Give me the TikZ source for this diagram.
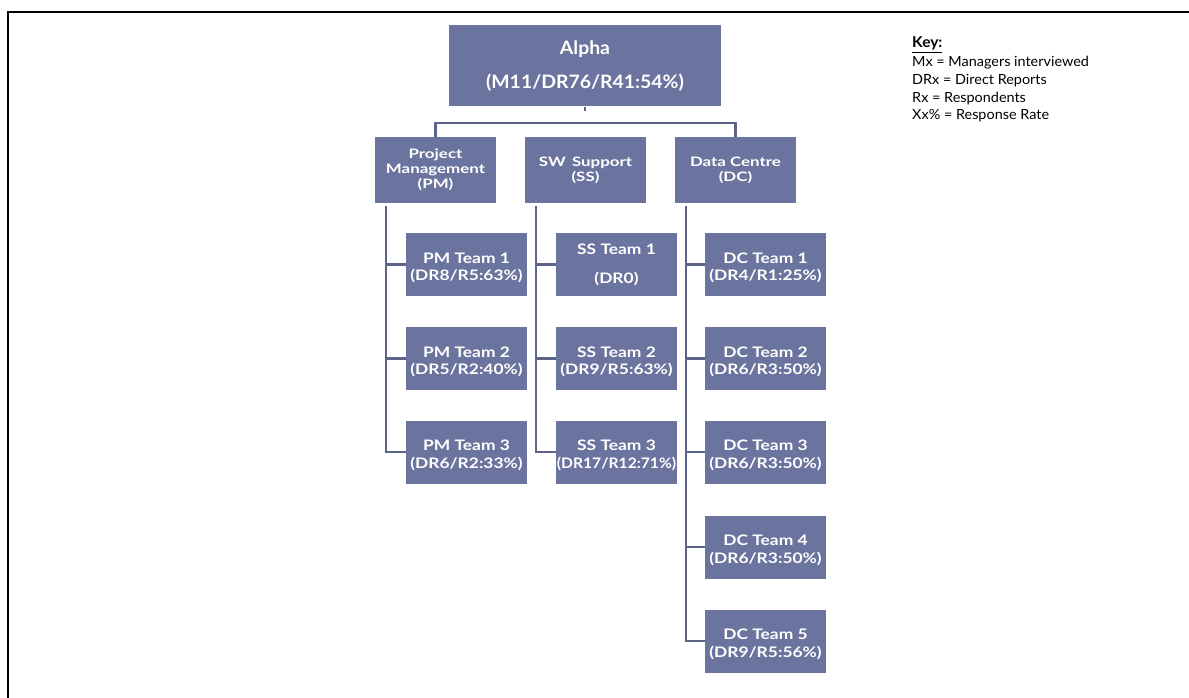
\documentclass[tikz,border=0pt]{standalone}
\usepackage{fontspec}
\setmainfont{Lato}
\newfontfamily\alphafont[FakeStretch=1.05]{Lato}
\newfontfamily\deptfont[FakeStretch=1.3]{Lato}
\newfontfamily\teamfont[FakeStretch=1.2]{Lato}
\newfontfamily\teamnarrowfont[FakeStretch=1.08]{Lato}
\newfontfamily\keyfont[FakeStretch=1.03]{Lato}
\newcommand\tstrut{\rule{0pt}{17pt}}
\definecolor{boxfill}{RGB}{107,116,158}
\definecolor{conn}{RGB}{92,100,138}
\begin{document}
\begin{tikzpicture}[x=1pt,y=-1pt,
  orgbox/.style={fill=boxfill, text=white, align=center, inner sep=0pt},
  topbox/.style={orgbox, minimum width=272pt, minimum height=81pt, font=\alphafont\bfseries\fontsize{18.5}{34}\selectfont},
  deptbox/.style={orgbox, minimum width=121pt, minimum height=65pt, font=\deptfont\bfseries\fontsize{13}{14.8}\selectfont},
  teambox/.style={orgbox, minimum width=121pt, minimum height=63pt, font=\teamfont\bfseries\fontsize{14.5}{17.5}\selectfont},
  link/.style={draw=conn, line width=2.6pt},
  keytext/.style={anchor=base west, inner sep=0pt, font=\keyfont\fontsize{14}{15}\selectfont}
]
\useasboundingbox (0,0) rectangle (1189,698);
\draw[line width=2.2pt] (8,698) -- (8,12) -- (1189,12);

\node[topbox] (alpha) at (585,66) {Alpha\\(M11/DR76/R41:54\%)};

\node[deptbox] (pm) at (435.5,170) {Project\\Management\\(PM)};
\node[deptbox] (ss) at (585.5,170) {SW\, Support\\(SS)};
\node[deptbox] (dc) at (735.5,170) {Data Centre\\(DC)};

\node[teambox] (pm1) at (466.5,264.5) {\tstrut PM Team 1\\(DR8/R5:63\%)};
\node[teambox] (pm2) at (466.5,358.5) {\tstrut PM Team 2\\(DR5/R2:40\%)};
\node[teambox] (pm3) at (466.5,452) {\tstrut PM Team 3\\(DR6/R2:33\%)};

\node[teambox, font=\teamfont\bfseries\fontsize{14.5}{29}\selectfont] (ss1) at (616.5,264.5) {SS Team 1\\(DR0)};
\node[teambox] (ss2) at (616.5,358.5) {\tstrut SS Team 2\\(DR9/R5:63\%)};
\node[teambox] (ss3) at (616.5,452) {\tstrut SS Team 3\\{\teamnarrowfont (DR17/R12:71\%)}};

\node[teambox] (dc1) at (765.5,264.5) {\tstrut DC Team 1\\(DR4/R1:25\%)};
\node[teambox] (dc2) at (765.5,358.5) {\tstrut DC Team 2\\(DR6/R3:50\%)};
\node[teambox] (dc3) at (765.5,452) {\tstrut DC Team 3\\(DR6/R3:50\%)};
\node[teambox] (dc4) at (765.5,547) {\tstrut DC Team 4\\(DR6/R3:50\%)};
\node[teambox] (dc5) at (765.5,641) {\tstrut DC Team 5\\(DR9/R5:56\%)};

% top tree
\coordinate (bar) at (585,123);
\draw[link] (alpha.south) -- ([yshift=12pt]bar);
\draw[link] (pm.north) |- (bar) -| (dc.north);

% branches
\coordinate (pmx) at ([xshift=11pt]pm.south west);
\coordinate (ssx) at ([xshift=11pt]ss.south west);
\coordinate (dcx) at ([xshift=11pt]dc.south west);
\draw[link] ([yshift=-3pt]pmx) |- (pm3.west);
\draw[link] ([yshift=-3pt]ssx) |- (ss3.west);
\draw[link] ([yshift=-3pt]dcx) |- (dc5.west);
\foreach \t in {pm1,pm2} \draw[link] (\t.west) -- (\t.west -| pmx);
\foreach \t in {ss1,ss2} \draw[link] (\t.west) -- (\t.west -| ssx);
\foreach \t in {dc1,dc2,dc3,dc4} \draw[link] (\t.west) -- (\t.west -| dcx);

% key
\node[keytext, font=\keyfont\bfseries\fontsize{15}{15}\selectfont] (keyh) at (912,48) {\underline{Key:}};
\node[keytext] (k1) at (912,67) {Mx = Managers interviewed};
\node[keytext] (k2) at (912,85) {DRx = Direct Reports};
\node[keytext] (k3) at (912,102.5) {Rx = Respondents};
\node[keytext] (k4) at (912,120) {Xx\% = Response Rate};
\end{tikzpicture}
\end{document}
